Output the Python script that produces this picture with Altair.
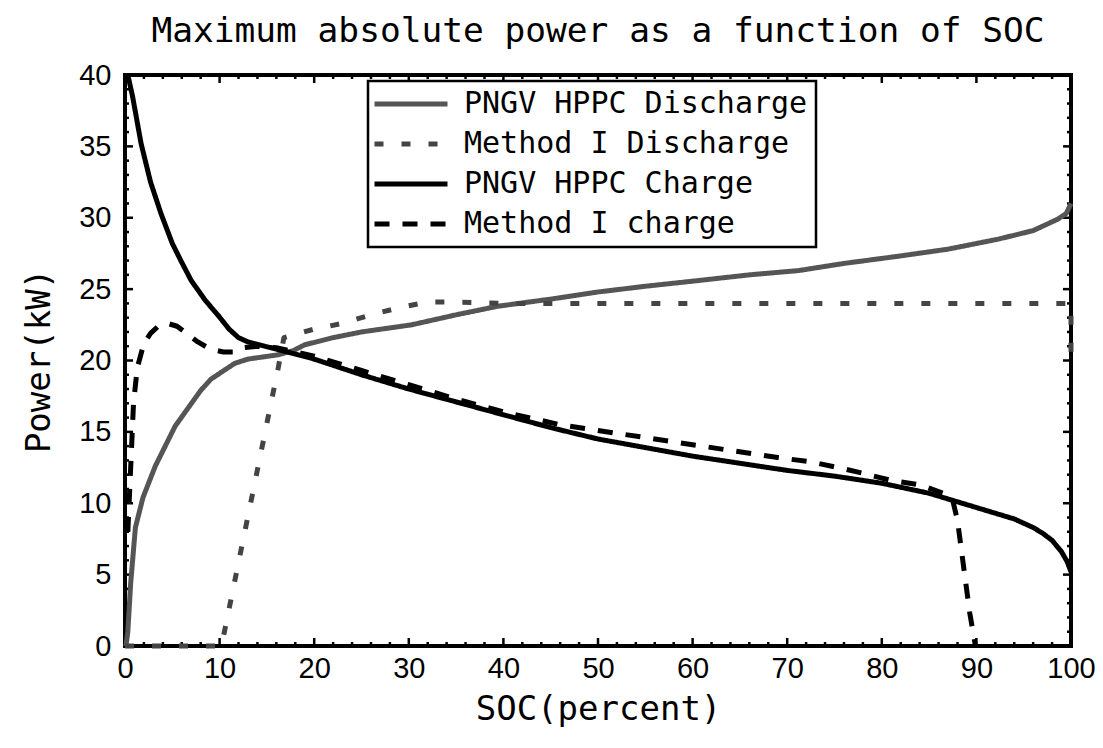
import altair as alt
import pandas as pd

series_names = ["PNGV HPPC Discharge", "Method I Discharge", "PNGV HPPC Charge", "Method I charge"]

hppc_dis_soc = [0.1, 0.3, 0.6, 1.1, 1.9, 3.2, 5.3, 8.0, 9.1, 11.6, 13.0, 16.2, 17.8, 19.0, 22.0, 25.0, 30.3, 35.0, 39.4, 45.0, 50.0, 55.0, 60.6, 66.0, 71.2, 76.0, 81.7, 87.0, 92.3, 96.0, 98.6, 99.5, 100.0]
hppc_dis_pow = [0.0, 1.0, 4.4, 8.3, 10.4, 12.6, 15.4, 17.9, 18.7, 19.8, 20.1, 20.4, 20.7, 21.1, 21.6, 22.0, 22.5, 23.2, 23.8, 24.3, 24.8, 25.2, 25.6, 26.0, 26.3, 26.8, 27.3, 27.8, 28.5, 29.1, 29.9, 30.3, 31.0]

m1_dis_soc = [0.0, 10.2, 16.2, 16.8, 20.0, 23.0, 26.0, 29.0, 32.0, 35.0, 40.0, 50.0, 60.0, 70.0, 80.0, 90.0, 99.6, 100.0, 100.0]
m1_dis_pow = [0.0, 0.0, 19.5, 21.6, 22.2, 22.6, 23.2, 23.7, 24.1, 24.1, 24.0, 24.0, 24.0, 24.0, 24.0, 24.0, 24.0, 24.0, 19.5]

hppc_chg_soc = [0.3, 0.8, 1.7, 2.7, 3.8, 5.0, 5.9, 7.0, 8.5, 9.8, 11.0, 12.0, 13.0, 16.0, 20.0, 25.0, 30.0, 35.0, 40.0, 45.0, 50.0, 55.0, 60.0, 65.0, 70.0, 75.0, 80.0, 85.0, 88.0, 90.0, 92.0, 94.0, 96.0, 97.0, 98.0, 99.0, 99.6, 100.0]
hppc_chg_pow = [40.0, 38.5, 35.2, 32.5, 30.3, 28.2, 27.0, 25.6, 24.2, 23.2, 22.2, 21.6, 21.3, 20.8, 20.1, 19.0, 18.0, 17.1, 16.2, 15.3, 14.5, 13.9, 13.3, 12.8, 12.3, 11.9, 11.4, 10.7, 10.1, 9.7, 9.3, 8.9, 8.3, 7.9, 7.4, 6.6, 5.9, 5.2]

m1_chg_soc = [0.3, 0.5, 0.7, 0.9, 1.3, 2.0, 2.7, 3.5, 4.5, 5.5, 6.5, 7.7, 9.0, 10.4, 11.5, 12.5, 14.0, 16.0, 20.0, 25.0, 30.0, 35.0, 40.0, 46.0, 52.0, 58.0, 64.0, 69.0, 72.5, 75.4, 78.0, 81.0, 84.0, 86.5, 87.5, 88.0, 88.6, 89.3, 89.9]
m1_chg_pow = [8.0, 11.0, 14.0, 17.0, 19.5, 21.2, 21.9, 22.4, 22.6, 22.4, 21.9, 21.3, 20.8, 20.6, 20.6, 20.9, 21.0, 20.9, 20.3, 19.3, 18.3, 17.3, 16.4, 15.5, 14.9, 14.3, 13.7, 13.2, 12.9, 12.5, 12.1, 11.6, 11.3, 10.7, 10.2, 8.8, 5.8, 2.3, 0.0]

x_major = list(range(0, 101, 10))
x_minor = list(range(0, 101, 2))
y_major = list(range(0, 41, 5))
y_minor = list(range(0, 41, 1))

rows = []
for name, xs, ys in [
    (series_names[0], hppc_dis_soc, hppc_dis_pow),
    (series_names[1], m1_dis_soc, m1_dis_pow),
    (series_names[2], hppc_chg_soc, hppc_chg_pow),
    (series_names[3], m1_chg_soc, m1_chg_pow),
]:
    for i, (a, b) in enumerate(zip(xs, ys)):
        rows.append({"soc": a, "power": b, "series": name, "idx": i})
df = pd.DataFrame(rows)

# tick marks drawn inward on all four sides
tick_rows = []
for v in x_minor:
    ln = 0.56 if v in x_major else 0.28
    tick_rows.append({"x": v, "x2": v, "y": 0, "y2": ln})
    tick_rows.append({"x": v, "x2": v, "y": 40, "y2": 40 - ln})
for v in y_minor:
    ln = 0.85 if v in y_major else 0.42
    tick_rows.append({"x": 0, "x2": ln, "y": v, "y2": v})
    tick_rows.append({"x": 100, "x2": 100 - ln, "y": v, "y2": v})
ticks_df = pd.DataFrame(tick_rows)

MONO = "DejaVu Sans Mono"
SANS = "Liberation Sans"
SYMBOL_PATH = "M-4,0H4"

xscale = alt.Scale(domain=[0, 100], nice=False, zero=False)
yscale = alt.Scale(domain=[0, 40], nice=False, zero=False)

legend_common = dict(title=None, orient="none", legendX=243, legendY=6,
                     symbolType=SYMBOL_PATH, symbolSize=333, symbolOffset=20,
                     labelFont=MONO, labelFontSize=30, labelColor="black", labelOffset=38,
                     labelLimit=600, rowPadding=10, padding=8,
                     strokeColor="black", fillColor="white")

lines = alt.Chart(df).mark_line(strokeCap="butt", strokeJoin="round").encode(
    x=alt.X("soc:Q", scale=xscale,
            axis=alt.Axis(values=x_major, title="SOC(percent)", grid=False, ticks=False, domain=False,
                          labelFlush=False,
                          labelFont=SANS, labelFontSize=29, labelColor="black", labelPadding=8,
                          titleFont=MONO, titleFontSize=34, titleFontWeight="normal", titleColor="black",
                          titlePadding=9)),
    y=alt.Y("power:Q", scale=yscale,
            axis=alt.Axis(values=y_major, title="Power(kW)", grid=False, ticks=False, domain=False,
                          labelFont=SANS, labelFontSize=29, labelColor="black", labelPadding=14,
                          titleFont=MONO, titleFontSize=34, titleFontWeight="normal", titleColor="black",
                          titlePadding=22)),
    color=alt.Color("series:N", sort=series_names,
                    scale=alt.Scale(domain=series_names, range=["#555555", "#444444", "#000000", "#000000"]),
                    legend=alt.Legend(**legend_common)),
    strokeDash=alt.StrokeDash("series:N", sort=series_names,
                              scale=alt.Scale(domain=series_names,
                                              range=[[1, 0], [9, 18], [1, 0], [15, 13]]),
                              legend=alt.Legend(**legend_common)),
    strokeWidth=alt.StrokeWidth("series:N", sort=series_names,
                                scale=alt.Scale(domain=series_names, range=[5, 5, 6, 7]),
                                legend=alt.Legend(**legend_common)),
    order="idx:Q",
)

tick_marks = alt.Chart(ticks_df).mark_rule(color="black", strokeWidth=2.5).encode(
    x=alt.X("x:Q", scale=xscale), x2="x2:Q",
    y=alt.Y("y:Q", scale=yscale), y2="y2:Q",
)

chart = alt.layer(tick_marks, lines).properties(
    width=946,
    height=571,
    title=alt.Title("Maximum absolute power as a function of SOC", font=MONO, fontSize=34.5,
                    fontWeight="normal", color="black", anchor="middle", offset=12),
    autosize=alt.AutoSizeParams(type="none"),
    padding={"left": 117, "top": 67, "right": 24, "bottom": 82},
).configure_view(
    stroke="black", strokeWidth=4
).configure_legend(
    strokeWidth=2.5
)

chart.save("out.html", embed_options={"renderer": "svg", "actions": False})
